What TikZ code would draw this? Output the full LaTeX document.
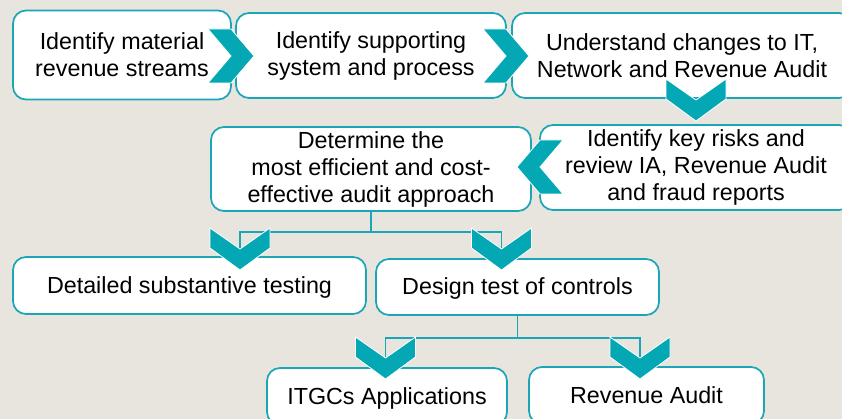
\documentclass[tikz,border=0pt]{standalone}
\usepackage{fontspec}
\setmainfont{Liberation Sans}
\definecolor{bg}{HTML}{E8E5DF}
\definecolor{chevteal}{HTML}{04A7B4}
\definecolor{lineteal}{HTML}{1AA6B6}
\tikzset{
  box/.style={draw=lineteal, line width=1.7pt, fill=white, rounded corners=13pt,
    inner sep=0pt, align=center, font=\fontsize{23.3}{27}\selectfont},
  conn/.style={draw=lineteal, line width=1.8pt},
  chev/.style={fill=chevteal, draw=white, line width=0.8pt, line join=miter},
  rchev/.pic={\path[chev] (0,-27) -- (23,-27) -- (46,0) -- (23,27) -- (0,27) -- (23,0) -- cycle;},
  lchev/.pic={\path[chev] (0,-27) -- (-23,-27) -- (-46,0) -- (-23,27) -- (0,27) -- (-23,0) -- cycle;},
  dchev/.pic={\path[chev] (-30,0) -- (-30,20) -- (0,42) -- (30,20) -- (30,0) -- (0,21) -- cycle;}
}
\begin{document}
\begin{tikzpicture}[x=1pt,y=-1pt]
\useasboundingbox (0,0) rectangle (842,419);
\clip (0,0) rectangle (842,419);
\fill[bg] (0,0) rectangle (842,419);

% boxes
\node[box, minimum width=218, minimum height=89] (b1) at (122,55) {Identify material\\revenue streams};
\node[box, minimum width=270, minimum height=85] (b2) at (371,55.5) {Identify supporting\\system and process};
\node[box, minimum width=340, minimum height=85] (b3) at (682,55.5) {Understand changes to IT,\\Network and Revenue Audit};
\node[box, minimum width=320, minimum height=84] (b4) at (371,169) {Determine the\\most efficient and cost-\\effective audit approach};
\node[box, minimum width=312, minimum height=85] (b5) at (696,167.5) {Identify key risks and\\review IA, Revenue Audit\\and fraud reports};
\node[box, minimum width=353, minimum height=57, text height=17, text depth=2] (b6) at (189.5,285.5) {Detailed substantive testing};
\node[box, minimum width=283, minimum height=56, text height=17, text depth=2] (b7) at (517.5,287) {Design test of controls};
\node[box, minimum width=240, minimum height=57, text height=17, text depth=2] (b8) at (387,396.5) {ITGCs Applications};
\node[box, minimum width=235, minimum height=57, text height=17, text depth=2] (b9) at (646.5,395.5) {Revenue Audit};

% chevron notch points
\coordinate (n5) at (240,249);
\coordinate (n6) at (501.5,249);
\coordinate (n7) at (385.5,358);
\coordinate (n8) at (640,358);

% connectors
\draw[conn] (b4.south) -- ++(0,20) coordinate (j1);
\draw[conn] (j1) -| (n5);
\draw[conn] (j1) -| (n6);
\draw[conn] (b7.south) -- ++(0,22) coordinate (j2);
\draw[conn] (j2) -| (n7);
\draw[conn] (j2) -| (n8);

% chevrons
\pic at (208,56) {rchev};
\pic at (483,56) {rchev};
\pic at (696,79) {dchev};
\pic at (563,167) {lchev};
\pic at (240,228) {dchev};
\pic at (501.5,228) {dchev};
\pic at (385.5,337) {dchev};
\pic at (640,337) {dchev};
\end{tikzpicture}
\end{document}
